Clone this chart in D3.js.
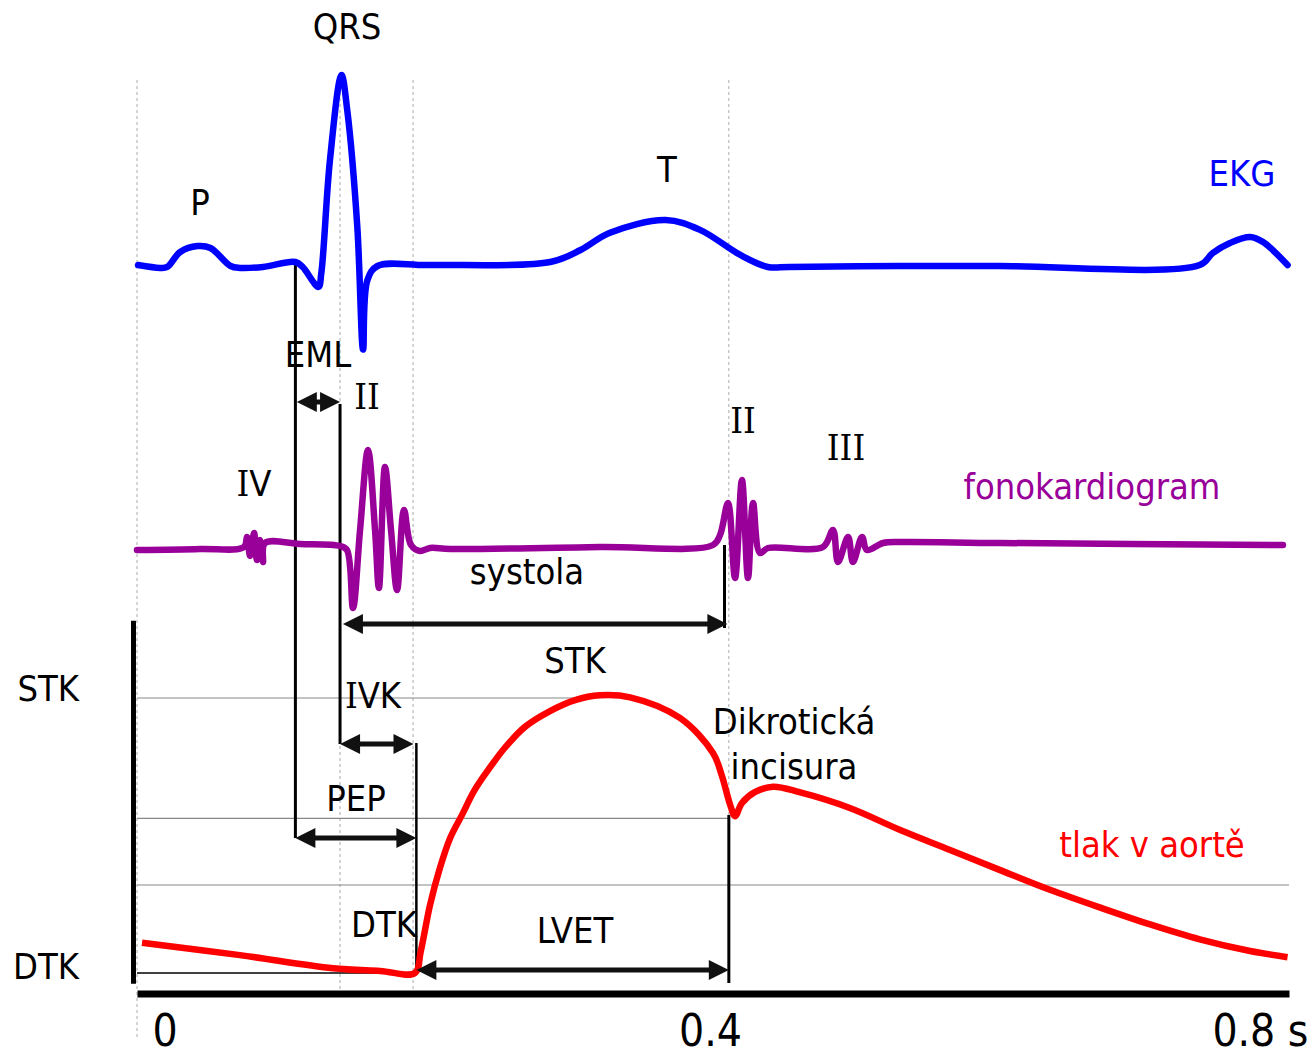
<!DOCTYPE html>
<html>
<head>
<meta charset="utf-8">
<script src="https://cdn.jsdelivr.net/npm/d3@7"></script>
<style>
  body { margin: 0; background: #fff; }
  text { font-family: "DejaVu Sans Condensed", "DejaVu Sans", sans-serif; font-size: 36px; }
</style>
</head>
<body>
<svg id="chart" width="1315" height="1056"></svg>
<script>
// EKG (time in s, voltage approx. mV relative to R peak)
const ekgTime = [0.0007, 0.016, 0.021, 0.030, 0.042, 0.051, 0.065, 0.0715, 0.0875, 0.110, 0.115, 0.126, 0.128,
    0.134, 0.142, 0.146, 0.153, 0.157, 0.160, 0.167, 0.203, 0.287, 0.308, 0.328, 0.367, 0.391, 0.419, 0.438,
    0.453, 0.530, 0.599, 0.738, 0.747, 0.759, 0.773, 0.782, 0.799];
const ekgValue = [0.005, -0.01, -0.005, 0.074, 0.105, 0.095, 0, -0.01, -0.005, 0.021, -0.005, -0.11, -0.037,
    0.558, 1.005, 0.82, 0.205, -0.44, -0.074, 0, 0.005, 0.021, 0.084, 0.174, 0.242, 0.19, 0.058, -0.005,
    -0.005, 0, 0, 0.005, 0.068, 0.121, 0.153, 0.126, 0.005];

// fonokardiogram (arbitrary amplitude)
const phonoTime = [0, 0.0438, 0.0743, 0.0764, 0.0785, 0.0813, 0.0833, 0.0854, 0.0875, 0.0889, 0.1132, 0.141,
    0.1458, 0.150, 0.1549, 0.1604, 0.1653, 0.168, 0.1722, 0.1764, 0.1806, 0.1854, 0.1903, 0.1965, 0.2035, 0.2174,
    0.3215, 0.400, 0.4049, 0.4104, 0.4153, 0.4201, 0.4243, 0.4278, 0.4326, 0.4382, 0.4764, 0.4833, 0.4868,
    0.4938, 0.4972, 0.5035, 0.5069, 0.5181, 0.5299, 0.599, 0.7958];
const phonoValue = [-0.03, -0.02, 0, 0.10, -0.09, 0.14, -0.13, 0.07, -0.15, 0.04, 0.03, 0.01,
    -0.03, -0.61, 0.17, 0.97, 0.17, -0.41, 0.80, 0.17, -0.43, 0.37, 0.02, -0.04, -0.01, -0.02,
    0, 0.02, 0.12, 0.44, -0.31, 0.67, -0.31, 0.44, -0.06, -0.01, 0, 0.17, -0.15,
    0.10, -0.15, 0.10, -0.03, 0.04, 0.05, 0.04, 0.02];

// tlak v aortě (mmHg)
const pressTime = [0.0035, 0.0715, 0.136, 0.169, 0.193, 0.197, 0.2035, 0.2104, 0.2174, 0.2257, 0.2347,
    0.2451, 0.2556, 0.2694, 0.2868, 0.3042, 0.3215, 0.3424, 0.377, 0.400, 0.406, 0.412, 0.4153, 0.420, 0.429,
    0.4417, 0.460, 0.495, 0.530, 0.5646, 0.599, 0.634, 0.669, 0.703, 0.738, 0.773, 0.799];
const pressValue = [84.4, 82.6, 80.7, 80.3, 80, 83.1, 89.9, 95.3, 99.6, 103.0, 106.7,
    109.9, 112.8, 115.8, 118.1, 119.7, 120.4, 120.1, 117.1, 112.0, 108.8, 104.4, 102.8, 104.7, 106.3,
    107.1, 106.3, 104.0, 100.8, 97.9, 95.0, 92.1, 89.5, 87.1, 84.9, 83.2, 82.3];

// reference levels of pressure and where they stop
const refLevel = [120, 102.5, 92.8, 80];
const refEnd = [0.315, 0.411, 0.8, 0.193];

// dotted event lines
const eventTime = [0, 0.141, 0.1917, 0.411];

// vertical marker lines
const markerTime = [0.110, 0.141, 0.194, 0.408, 0.411];

// time intervals drawn as double arrows
const intervalName = ['EML', 'systola', 'IVK', 'PEP', 'LVET'];
const intervalStart = [0.111, 0.143, 0.141, 0.110, 0.194];
const intervalEnd = [0.141, 0.410, 0.192, 0.194, 0.411];

const tickValues = [0, 0.4, 0.8];
const tickLabels = ['0', '0.4', '0.8 s'];

const svg = d3.select('#chart');

const x = d3.scaleLinear().domain([0, 0.8]).range([137, 1289]);
const ekgY = d3.scaleLinear().domain([0, 1]).range([266, 76]);
const phonoY = d3.scaleLinear().domain([0, 1]).range([547, 447]);
const pressY = d3.scaleLinear().domain([80, 120]).range([973, 698]);

// dotted verticals
const eventBottom = [1040, 995, 990, 815];
eventTime.forEach((t, i) => {
    svg.append('line')
        .attr('x1', x(t)).attr('x2', x(t))
        .attr('y1', 80).attr('y2', eventBottom[i])
        .attr('stroke', '#aaa')
        .attr('stroke-width', 1)
        .attr('stroke-dasharray', '3,3');
});

// pressure reference lines
refLevel.forEach((p, i) => {
    const last = i === refLevel.length - 1;
    svg.append('line')
        .attr('x1', x(0)).attr('x2', x(refEnd[i]))
        .attr('y1', pressY(p)).attr('y2', pressY(p))
        .attr('stroke', last ? '#000' : '#888')
        .attr('stroke-width', last ? 1.5 : 1.2);
});

// left pressure axis
const pAxisScale = d3.scaleLinear().domain([78.5, 131.3]).range([pressY(78.5), pressY(131.3)]);
const leftAxis = svg.append('g')
    .attr('transform', 'translate(133,0)')
    .call(d3.axisLeft(pAxisScale).tickValues([120, 80]).tickSize(0).tickSizeOuter(0).tickPadding(54)
        .tickFormat(d => d === 120 ? 'STK' : 'DTK'));
leftAxis.select('.domain').attr('stroke', '#000').attr('stroke-width', 5);
leftAxis.selectAll('text')
    .style('font-size', '36px')
    .attr('dy', d => d === 120 ? 2 : 5);

// bottom time axis
const bottomAxis = svg.append('g')
    .attr('transform', 'translate(0,993.5)')
    .call(d3.axisBottom(x).tickValues(tickValues).tickSize(0).tickSizeOuter(0)
        .tickFormat((d, i) => tickLabels[i]));
bottomAxis.select('.domain').attr('stroke', '#000').attr('stroke-width', 7);
bottomAxis.selectAll('text')
    .style('font-size', '44px')
    .attr('y', 52)
    .attr('dy', 0)
    .attr('text-anchor', (d, i) => i === 0 ? 'start' : (i === 2 ? 'end' : 'middle'))
    .attr('dx', (d, i) => i === 0 ? 15 : (i === 2 ? 19 : -3));

// vertical marker lines
const markerTop = [262, 404, 743, 545, 815];
const markerBottom = [838, 744, 973, 628, 983];
const markerWidth = [3, 3, 2.5, 3, 3];
markerTime.forEach((t, i) => {
    svg.append('line')
        .attr('x1', x(t)).attr('x2', x(t))
        .attr('y1', markerTop[i]).attr('y2', markerBottom[i])
        .attr('stroke', '#000')
        .attr('stroke-width', markerWidth[i]);
});

// curves
const curve = d3.curveCatmullRom.alpha(0.5);

svg.append('path')
    .datum(d3.zip(pressTime, pressValue))
    .attr('d', d3.line().x(d => x(d[0])).y(d => pressY(d[1])).curve(curve))
    .attr('fill', 'none')
    .attr('stroke', '#ff0000')
    .attr('stroke-width', 6.5)
    .attr('stroke-linejoin', 'round');

svg.append('path')
    .datum(d3.zip(phonoTime, phonoValue))
    .attr('d', d3.line().x(d => x(d[0])).y(d => phonoY(d[1])).curve(curve))
    .attr('fill', 'none')
    .attr('stroke', '#990099')
    .attr('stroke-width', 6.5)
    .attr('stroke-linejoin', 'round')
    .attr('stroke-linecap', 'round');

svg.append('path')
    .datum(d3.zip(ekgTime, ekgValue))
    .attr('d', d3.line().x(d => x(d[0])).y(d => ekgY(d[1])).curve(curve))
    .attr('fill', 'none')
    .attr('stroke', '#0000ff')
    .attr('stroke-width', 6.5)
    .attr('stroke-linejoin', 'round')
    .attr('stroke-linecap', 'round');

// double arrows
const arrowRowY = [402, 624, 744, 838, 970];
const headLen = 20;
const headHalf = 10;
intervalName.forEach((name, i) => {
    const x1 = x(intervalStart[i]);
    const x2 = x(intervalEnd[i]);
    const y = arrowRowY[i];
    const g = svg.append('g').attr('fill', '#111').attr('stroke', '#111');
    g.append('line')
        .attr('x1', x1 + headLen - 2).attr('x2', x2 - headLen + 2)
        .attr('y1', y).attr('y2', y)
        .attr('stroke-width', 5);
    g.append('path')
        .attr('stroke', 'none')
        .attr('d', `M${x1},${y}L${x1 + headLen},${y - headHalf}L${x1 + headLen},${y + headHalf}Z`);
    g.append('path')
        .attr('stroke', 'none')
        .attr('d', `M${x2},${y}L${x2 - headLen},${y - headHalf}L${x2 - headLen},${y + headHalf}Z`);
});

// labels
const labels = [
    { text: 'QRS', x: 347, y: 39 },
    { text: 'P', x: 200, y: 215 },
    { text: 'T', x: 667, y: 182 },
    { text: 'EKG', x: 1242, y: 186, color: '#0000ff' },
    { text: 'EML', x: 318, y: 367 },
    { text: 'II', x: 367, y: 409 },
    { text: 'IV', x: 254, y: 496 },
    { text: 'II', x: 743, y: 433 },
    { text: 'III', x: 846, y: 460 },
    { text: 'fonokardiogram', x: 1092, y: 499, color: '#990099' },
    { text: 'systola', x: 527, y: 584 },
    { text: 'STK', x: 575, y: 673 },
    { text: 'IVK', x: 373, y: 708 },
    { text: 'Dikrotická', x: 794, y: 734 },
    { text: 'incisura', x: 794, y: 779 },
    { text: 'PEP', x: 356, y: 811 },
    { text: 'tlak v aortě', x: 1152, y: 857, color: '#ff0000' },
    { text: 'DTK', x: 384, y: 937 },
    { text: 'LVET', x: 575, y: 943 },
];

labels.forEach(d => {
    const t = svg.append('text')
        .attr('x', d.x)
        .attr('y', d.y)
        .attr('text-anchor', 'middle')
        .attr('fill', d.color || '#000');
    // capital I drawn with serifs, like in the original font
    d.text.match(/I+|[^I]+/g).forEach(run => {
        const s = t.append('tspan').text(run);
        if (run[0] === 'I') s.style('font-family', '"DejaVu Serif Condensed", "DejaVu Serif", serif');
    });
});
</script>
</body>
</html>
